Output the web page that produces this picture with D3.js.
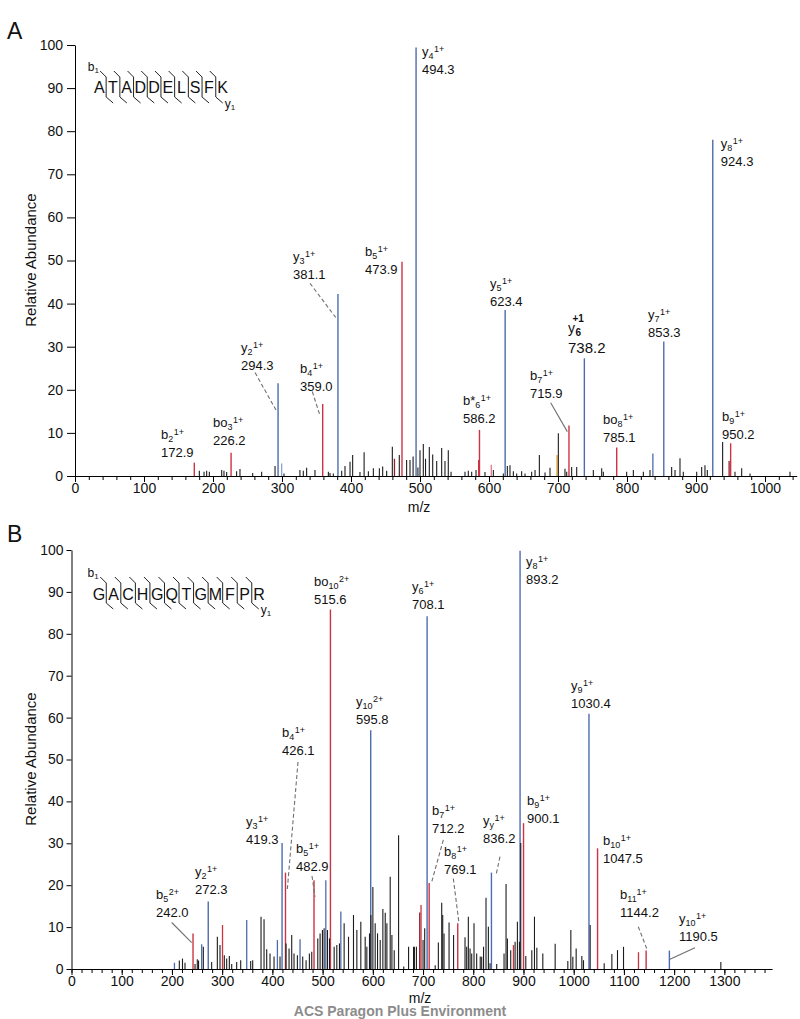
<!DOCTYPE html>
<html><head><meta charset="utf-8">
<script src="https://cdn.jsdelivr.net/npm/d3@7"></script>
<style>
body{margin:0;background:#fff}
svg{display:block}
text{font-family:"Liberation Sans",Arial,Helvetica,sans-serif;fill:#111}
</style>
</head><body>
<svg id="c" width="800" height="1019"></svg>
<script>
// ================= DATA: panel A =================
const aSequence = "ATADDELSFK";
const aIonBase  = ["b","bo","y","b","y","b","y","b*","y","b","y","bo","y","y","b"];
const aIonSub   = ["2","3","2","4","3","5","4","6","5","7","6","8","7","8","9"];
const aIonSup   = ["1+","1+","1+","1+","1+","1+","1+","1+","1+","1+","+1","1+","1+","1+","1+"];
const aIonMz    = [172.9,226.2,294.3,359.0,381.1,473.9,494.3,586.2,623.4,715.9,738.2,785.1,853.3,924.3,950.2];
const aIonInt   = [3.1,5.4,21.5,16.7,42.2,49.7,99.4,10.7,38.5,11.7,27.3,6.6,31.2,78.0,7.6];
const aIonType  = ["b","b","y","b","y","b","y","b","y","b","y","b","y","y","b"];
const aValueText= ["172.9","226.2","294.3","359.0","381.1","473.9","494.3","586.2","623.4","715.9","738.2","785.1","853.3","924.3","950.2"];

const aNoiseMz  = [180.2,187,190.8,194.7,212.6,215.9,219.8,234.2,239.1,257.5,270.5,289.9,302.9,326,330.9,335.7,347.8,367.2,369.6,374.4,386.5,391.3,398.6,402.4,413,419,425.2,432.4,441.1,445.9,451.7,459.9,470,480.6,485.5,490,497,500,504.8,508,513.5,518.4,524.2,531.4,536.2,541,545,565.2,570,574.9,581.2,594.2,606.3,620.8,626.6,630.4,635.3,640.1,647.3,652.2,661.8,666.7,673,681.2,688.4,700.5,710.1,712.6,719.8,727.1,751.2,763.3,765.7,799.5,809.2,823.7,833.3,864.7,869.6,876.8,881.6,901,908.2,913,916.4,938.6,956.5,966.2,978.3,1036.2];
const aNoiseInt = [1.2,1.0,1.2,1.0,1.4,1.2,0.9,1.1,1.6,0.7,1.0,2.3,0.6,1.4,1.2,1.9,1.4,1.0,0.7,0.6,1.2,2.3,3.3,4.9,0.9,5.5,1.1,1.8,1.8,2.2,1.2,6.8,4.9,3.7,3.7,4.5,2.0,6.0,7.4,4.0,6.7,5.0,3.5,6.5,3.5,6.0,1.0,1.0,1.2,1.0,1.4,0.9,1.4,0.6,2.3,2.5,1.1,0.6,1.1,0.6,1.0,1.4,4.9,0.8,1.9,9.9,1.7,1.0,2.1,2.1,1.4,1.8,1.0,1.0,1.4,1.0,1.4,2.1,1.4,4.1,1.0,1.0,2.1,2.5,1.4,7.9,1.0,1.8,0.6,1.0];

const aExtraMz   = [299.5,463,585,603.3,698.6,837.5,948];
const aExtraInt  = [2.9,4.0,3.7,2.6,4.9,5.2,3.5];
const aExtraKind = ["ylight","bdark","b","blight","other","y","bdark"];

// ================= DATA: panel B =================
const bSequence = "GACHGQTGMFPR";
const bIonBase  = ["b","y","y","b","b","bo","y","y","b","b","y","y","b","y","b","b","y"];
const bIonSub   = ["5","2","3","4","5","10","10","6","7","8","y","8","9","9","10","11","10"];
const bIonSup   = ["2+","1+","1+","1+","1+","2+","2+","1+","1+","1+","1+","1+","1+","1+","1+","1+","1+"];
const bIonMz    = [242.0,272.3,419.3,426.1,482.9,515.6,595.8,708.1,712.2,769.1,836.2,893.2,900.1,1030.4,1047.5,1144.2,1190.5];
const bIonInt   = [8.5,16.1,30.1,23.0,21.2,85.8,57.0,84.2,20.5,10.9,23.0,99.8,34.8,60.9,28.8,4.4,4.4];
const bIonType  = ["b","y","y","b","b","b","y","y","b","b","y","y","b","y","b","b","y"];
const bValueText= ["242.0","272.3","419.3","426.1","482.9","515.6","595.8","708.1","712.2","769.1","836.2","893.2","900.1","1030.4","1047.5","1144.2","1190.5"];

const bNoiseMz  = [214.7,221,226,246,250.5,253,262.5,279.1,290.4,295.7,304.3,309,314.3,319,328.9,336.9,356.8,360.8,377.4,383.4,388.7,395.3,403.3,415.2,427.2,433.2,438.5,443.1,449.8,460.4,467.1,473.7,478.4,490.4,495,499.7,503,509.7,513.7,523,528.3,533.6,542.9,551.6,561.5,568.2,576.1,584.8,588.1,593.4,596.1,600.1,604.7,609.4,614.7,620,624.7,628,634.6,638,642.6,651.3,661.6,671.2,681.1,682.8,686.8,700,703.3,724.2,730.5,737.2,739.2,741.8,751.8,760.8,783.6,786.9,790.2,793.6,796.9,801.5,806.8,813.9,816.8,820.5,825.4,830.1,833.4,846.7,861.3,865.3,868,874.6,883.3,887.9,891.9,894.6,904.6,916.6,921.9,926.6,938.5,963.1,988.3,994.3,998.3,1004.9,1016.2,1019.5,1032.8,1060.7,1076,1087.2,1099.2,1293];
const bNoiseInt = [2.0,2.5,1.5,1.2,2.3,2.0,5.3,1.7,7.7,5.7,3.3,2.5,3.1,1.2,1.7,2.1,1.9,2.1,12.5,11.9,4.7,3.7,3.0,3.0,6.1,4.9,8.1,3.7,3.3,3.0,2.1,3.7,4.1,7.3,8.5,9.3,9.7,9.3,7.3,5.3,5.7,6.1,10.9,7.7,12.9,9.3,11.3,7.7,5.3,8.5,12.9,19.6,10.9,8.5,6.9,14.3,13.4,10.9,22.0,8.1,4.5,31.9,0.6,5.3,5.3,5.3,5.3,6.9,9.7,0.9,6.3,15.8,12.9,8.5,11.1,8.1,7.6,5.3,12.5,4.9,3.7,10.9,3.7,3.0,2.9,5.3,17.0,10.1,1.4,1.2,3.7,20.3,7.3,4.5,6.5,11.3,6.5,30.1,3.1,4.5,12.5,5.1,3.7,6.0,1.9,9.3,2.9,4.9,3.1,2.1,10.5,1.4,3.6,4.5,5.3,1.7];

const bExtraMz   = [205,259.2,300.7,348.9,410,455.1,506.4,536.3,693.4,696,880,1129];
const bExtraInt  = [1.5,5.9,10.5,11.7,6.9,7.1,21.2,13.7,13.5,15.3,5.7,4.0];
const bExtraKind = ["y","y","b","y","y","y","y","y","bdark","b","b","b"];

const yTickValues = [0,10,20,30,40,50,60,70,80,90,100];

// ================= LAYOUT (label anchors in data units) =================
// [label left m/z, value-baseline intensity]
const aLabelPos = [[124.6,4.3],[200,7.1],[240.6,24.5],[326,19.8],[316,45.6],[420.3,46.9],[502.9,93.2],[562.3,12.4],[601.4,39.4],[659.4,18],[714.5,28.5],[765.2,7.8],[830.4,32.3],[936,71.9],[937.7,8.5]];
const aLeaders  = [[260.9,24.0,291.3,15.3,1],[343.9,19.6,355.1,14.0,1],[340.6,44.7,377.8,36.8,1],[689.4,17.0,713.5,10.3,0]];
const bLabelPos = [[168.3,12.4],[246,17.8],[347.5,29.9],[419.2,51.0],[447,23.3],[482.9,87.2],[566.5,58.5],[678,86],[717.8,32.5],[741.7,22.7],[819.4,30.1],[905,91.9],[907,34.9],[994.6,62.3],[1058.3,25.3],[1092.4,12.4],[1209.6,6.6]];
const bLeaders  = [[199.5,11.1,239.3,6.3,0],[451,49.4,429.7,18.9,1],[478.9,22.2,484.9,17.2,1],[740.4,30.8,717.3,20.8,1],[760.3,21.6,771.6,10.9,1],[853.2,26.8,845.3,22.4,1],[1128.6,10.1,1145.3,4.9,1],[1241.5,5.1,1191.7,2.3,0]];

const COLORS = {y:"#4d6caf", ylight:"#8fa3d3", b:"#cc3344", bdark:"#8f1f2a", blight:"#e5748a", other:"#e0a030", noise:"#1c1c1c", leader:"#707070"};

const svg = d3.select("#c");

function drawPanel(p){
  const g = svg.append("g");
  const x = d3.scaleLinear().domain([0,p.xMax]).range([p.x0,p.x1]);
  const y = d3.scaleLinear().domain([0,100]).range([p.y0,p.y1]);

  // colored labelled peaks
  g.append("g").selectAll("line").data(d3.range(p.ionMz.length)).join("line")
    .attr("x1",i=>x(p.ionMz[i])).attr("x2",i=>x(p.ionMz[i]))
    .attr("y1",y(0)).attr("y2",i=>y(p.ionInt[i]))
    .attr("stroke",i=>COLORS[p.ionType[i]]).attr("stroke-width",1.4);
  // extra colored small peaks
  g.append("g").selectAll("line").data(d3.range(p.exMz.length)).join("line")
    .attr("x1",i=>x(p.exMz[i])).attr("x2",i=>x(p.exMz[i]))
    .attr("y1",y(0)).attr("y2",i=>y(p.exInt[i]))
    .attr("stroke",i=>COLORS[p.exKind[i]]).attr("stroke-width",1.3);
  // noise peaks
  g.append("g").selectAll("line").data(d3.range(p.nMz.length)).join("line")
    .attr("x1",i=>x(p.nMz[i])).attr("x2",i=>x(p.nMz[i]))
    .attr("y1",y(0)).attr("y2",i=>y(p.nInt[i]))
    .attr("stroke",COLORS.noise).attr("stroke-width",1.1);

  // axes
  const minor = d3.axisBottom(x).tickValues(d3.range(0,p.xMax,20)).tickSize(4).tickSizeOuter(0).tickFormat("");
  const major = d3.axisBottom(x).tickValues(d3.range(0,p.xMax,100)).tickSize(6).tickSizeOuter(0).tickPadding(1).tickFormat(d3.format("d"));
  const gm = g.append("g").attr("transform",`translate(0,${p.y0})`).call(minor);
  const gM = g.append("g").attr("transform",`translate(0,${p.y0})`).call(major);
  gM.select(".domain").remove();
  gm.select(".domain").attr("stroke","#000");
  gM.selectAll("text").style("font-size","14px").attr("fill","#111");
  const ya = d3.axisLeft(y).tickValues(yTickValues).tickSize(p.yTick).tickPadding(p.yPad).tickSizeOuter(0).tickFormat(d3.format("d"));
  const gy = g.append("g").attr("transform",`translate(${p.x0},0)`).call(ya);
  gy.selectAll("text").style("font-size","14px").attr("fill","#111");
  g.selectAll(".tick line").attr("stroke","#000");

  // axis titles
  g.append("text").attr("x",p.xTitleX).attr("y",p.xTitleY).attr("text-anchor","middle").style("font-size","14px").text("m/z");
  g.append("text").attr("transform",`translate(36,${p.yTitleY}) rotate(-90)`).attr("text-anchor","middle").style("font-size","15px").text("Relative Abundance");
  g.append("text").attr("x",7).attr("y",p.letterY).style("font-size","23px").text(p.letter);

  // leaders
  g.append("g").selectAll("line").data(p.leaders).join("line")
    .attr("x1",d=>x(d[0])).attr("y1",d=>y(d[1])).attr("x2",d=>x(d[2])).attr("y2",d=>y(d[3]))
    .attr("stroke",COLORS.leader).attr("stroke-width",1.1)
    .attr("stroke-dasharray",d=>d[4]?"4,2.5":null);

  // labels
  p.ionMz.forEach((mz,i)=>{
    const lx = x(p.labelPos[i][0]), ly = y(p.labelPos[i][1]);
    const special = p.ionSup[i]==="+1";
    g.append("text").attr("x",lx).attr("y",ly).style("font-size",special?"15px":"13px").text(p.valueText[i]);
    if(special){
      const nb = ly-20;
      g.append("text").attr("x",lx).attr("y",nb).style("font-size","14px").text(p.ionBase[i]);
      g.append("text").attr("x",lx+7.5).attr("y",nb+3).style("font-size","10px").style("font-weight","bold").text(p.ionSub[i]);
      g.append("text").attr("x",lx+4.5).attr("y",nb-11).style("font-size","10px").style("font-weight","bold").text(p.ionSup[i]);
    } else {
      const t = g.append("text").attr("x",lx).attr("y",ly-18).style("font-size","13px");
      t.append("tspan").text(p.ionBase[i]);
      t.append("tspan").attr("dy",3).style("font-size","9px").text(p.ionSub[i]);
      t.append("tspan").attr("dy",-7).attr("dx",0.5).style("font-size","9px").text(p.ionSup[i]);
    }
  });

  // sequence with fragment markers
  const sq = p.seq.split("");
  const s = p.seqLayout;
  const sg = g.append("g");
  sg.selectAll("text").data(sq).join("text")
    .attr("x",(d,i)=>s.x+i*s.dx).attr("y",s.base).attr("text-anchor","middle")
    .style("font-size","16px").text(d=>d);
  const mids = d3.range(sq.length-1).map(i=>s.x+(i+0.5)*s.dx);
  sg.selectAll("path").data(mids).join("path")
    .attr("d",m=>`M${m-6},${s.top}L${m},${s.top+6}L${m},${s.top+26}L${m+7},${s.top+32}`)
    .attr("fill","none").attr("stroke","#222").attr("stroke-width",1);
  const b1 = sg.append("text").attr("x",s.x-11.5).attr("y",s.top-0.5).style("font-size","12px");
  b1.append("tspan").text("b"); b1.append("tspan").attr("dy",2).style("font-size","8px").text("1");
  const y1 = sg.append("text").attr("x",mids[mids.length-1]+9).attr("y",s.top+37).style("font-size","12px");
  y1.append("tspan").text("y"); y1.append("tspan").attr("dy",2).style("font-size","8px").text("1");
}

drawPanel({
  letter:"A", letterY:39, xMax:1046, x0:75, x1:75+1046*0.69, y0:476, y1:45,
  yTick:8, yPad:4, xTitleX:419, xTitleY:512, yTitleY:260,
  ionMz:aIonMz, ionInt:aIonInt, ionType:aIonType, ionBase:aIonBase, ionSub:aIonSub, ionSup:aIonSup, valueText:aValueText,
  exMz:aExtraMz, exInt:aExtraInt, exKind:aExtraKind, nMz:aNoiseMz, nInt:aNoiseInt,
  labelPos:aLabelPos, leaders:aLeaders, seq:aSequence,
  seqLayout:{x:99.3, dx:13.7, base:93.3, top:71}
});
drawPanel({
  letter:"B", letterY:542, xMax:1395, x0:71.5, x1:71.5+1395*0.5022, y0:969, y1:550,
  yTick:5, yPad:3, xTitleX:420, xTitleY:1003, yTitleY:759,
  ionMz:bIonMz, ionInt:bIonInt, ionType:bIonType, ionBase:bIonBase, ionSub:bIonSub, ionSup:bIonSup, valueText:bValueText,
  exMz:bExtraMz, exInt:bExtraInt, exKind:bExtraKind, nMz:bNoiseMz, nInt:bNoiseInt,
  labelPos:bLabelPos, leaders:bLeaders, seq:bSequence,
  seqLayout:{x:99, dx:14.55, base:600, top:577}
});

svg.append("text").attr("x",400).attr("y",1016).attr("text-anchor","middle")
  .style("font-size","14px").style("font-weight","bold").style("fill","#8c8c8c")
  .text("ACS Paragon Plus Environment");
</script>
</body></html>
